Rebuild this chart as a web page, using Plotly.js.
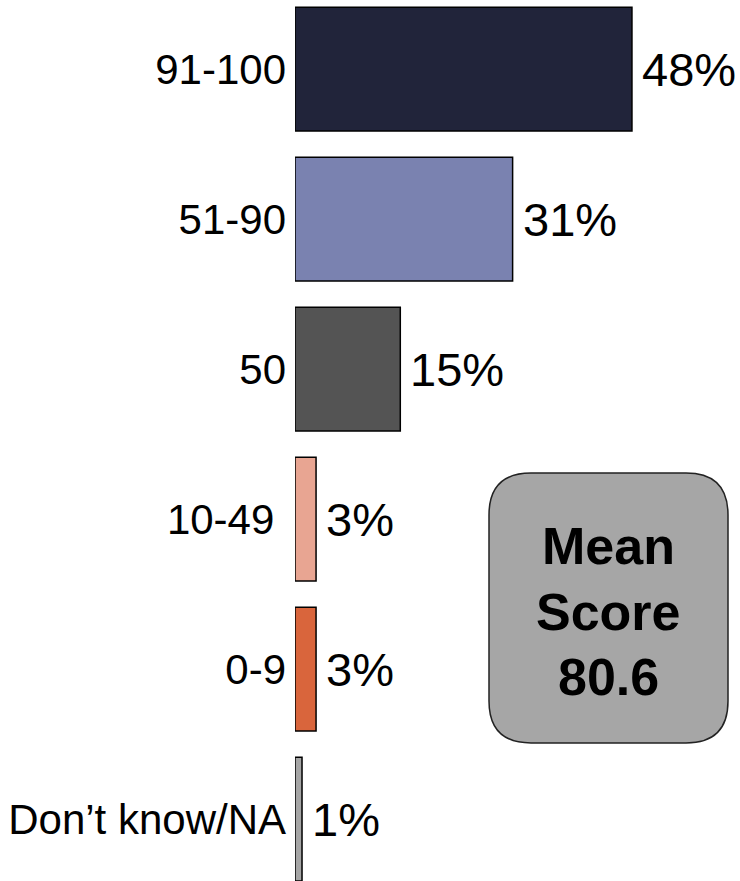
<!DOCTYPE html>
<html>
<head>
<meta charset="utf-8">
<script src="https://cdn.plot.ly/plotly-3.0.1.min.js"></script>
<style>html,body{margin:0;padding:0;background:#fff;}</style>
</head>
<body>
<div id="chart" style="width:740px;height:881px;"></div>
<script>
const categories = ["91-100", "51-90", "50", "10-49", "0-9", "Don\u2019t know/NA"];
const tickLabels = ["91-100", "51-90", "50", "10-49\u00a0", "0-9", "Don\u2019t know/NA"];
const values = [48, 31, 15, 3, 3, 1];
const barColors = ["#21243a", "#7a82b0", "#545454", "#e8a592", "#d9653c", "#a6a6a6"];
const meanLines = ["Mean", "Score", "80.6"];

const W = 740, H = 881, L = 295;
const FONT = "Liberation Sans, Arial, sans-serif";
// helpers converting pixel positions into paper coordinates
const px = x => (x - L) / (W - L);
const py = y => 1 - y / H;

// rounded rectangle path (paper coords)
function roundRect(x0, y0, x1, y1, r) {
  const p = (x, y) => px(x) + "," + py(y);
  return "M" + p(x0 + r, y0) +
    " L" + p(x1 - r, y0) +
    " Q" + p(x1, y0) + " " + p(x1, y0 + r) +
    " L" + p(x1, y1 - r) +
    " Q" + p(x1, y1) + " " + p(x1 - r, y1) +
    " L" + p(x0 + r, y1) +
    " Q" + p(x0, y1) + " " + p(x0, y1 - r) +
    " L" + p(x0, y0 + r) +
    " Q" + p(x0, y0) + " " + p(x0 + r, y0) + " Z";
}

const trace = {
  type: "bar",
  orientation: "h",
  x: values,
  y: categories,
  marker: { color: barColors, line: { color: "#000000", width: 1.5 } },
  hoverinfo: "none"
};

// annotations positioned on the category axis by category index
const valueAnnotations = values.map((v, i) => ({
  x: v, y: categories.indexOf(categories[i]), xref: "x", yref: "y",
  text: v + "%", showarrow: false, xanchor: "left", yanchor: "middle",
  xshift: 8,
  font: { family: FONT, size: 47, color: "#000" }
}));

const lineCenters = [546, 612, 677];
const meanAnnotations = meanLines.map((t, i) => ({
  x: px(608.5), y: py(lineCenters[i]), xref: "paper", yref: "paper",
  text: "<b>" + t + "</b>", showarrow: false,
  xanchor: "center", yanchor: "middle", align: "center",
  font: { family: FONT, size: 52, color: "#000" }
}));

const layout = {
  width: W, height: H,
  margin: { l: L, r: 0, t: 0, b: 0, pad: 0 },
  paper_bgcolor: "#ffffff", plot_bgcolor: "#ffffff",
  showlegend: false,
  bargap: 0.175,
  font: { family: FONT, color: "#000" },
  xaxis: { range: [0, (W - L) / 7.02], showgrid: false, zeroline: false,
           showticklabels: false, showline: false, ticks: "" },
  yaxis: { type: "category", categoryorder: "array", categoryarray: categories,
           tickmode: "array", tickvals: categories, ticktext: tickLabels,
           range: [5.413, -0.46], showgrid: false, zeroline: false, showline: false,
           ticks: "", ticklabelstandoff: 8,
           tickfont: { family: FONT, size: 42, color: "#000" } },
  shapes: [{
    type: "path", xref: "paper", yref: "paper",
    path: roundRect(489, 473, 728, 743, 42),
    fillcolor: "#a6a6a6", line: { color: "#222222", width: 1.5 }, layer: "above"
  }],
  annotations: valueAnnotations.concat(meanAnnotations)
};

Plotly.newPlot("chart", [trace], layout, { displayModeBar: false, staticPlot: true });
</script>
</body>
</html>
